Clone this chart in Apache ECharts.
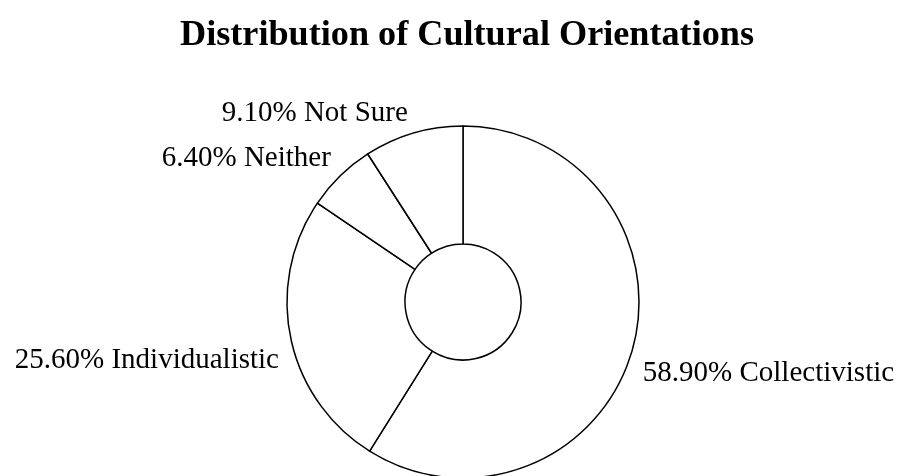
<!DOCTYPE html>
<html>
<head>
<meta charset="utf-8">
<style>
  html, body { margin: 0; padding: 0; background: #fff; }
  #chart { width: 898px; height: 476px; }
</style>
<script src="https://cdn.jsdelivr.net/npm/echarts@6/dist/echarts.min.js"></script>
</head>
<body>
<div id="chart"></div>
<script>
// Survey responses: share of each cultural orientation (percent)
const categories = ['Collectivistic', 'Individualistic', 'Neither', 'Not Sure'];
const shares = [58.9, 25.6, 6.4, 9.1];

const FONT = '"Liberation Serif", "Times New Roman", serif';
const CENTER = [463, 302];
const R_INNER = 58;
const R_OUTER = 176;
const LABEL_GAP = 9;

const total = shares.reduce((a, b) => a + b, 0);

// Mid-angle of each slice, measured clockwise from 12 o'clock
function midAngle(i) {
  let before = 0;
  for (let k = 0; k < i; k++) before += shares[k];
  return ((before + shares[i] / 2) / total) * Math.PI * 2;
}

const chart = echarts.init(document.getElementById('chart'), null, { renderer: 'canvas' });

chart.setOption({
  animation: false,
  backgroundColor: '#ffffff',
  title: {
    text: 'Distribution of Cultural Orientations',
    left: 462,
    top: 13,
    textAlign: 'center',
    textStyle: {
      fontFamily: FONT,
      fontWeight: 'bold',
      fontSize: 36.2,
      color: '#000'
    }
  },
  series: [{
    type: 'pie',
    center: CENTER,
    radius: [R_INNER, R_OUTER],
    startAngle: 90,
    clockwise: true,
    silent: true,
    avoidLabelOverlap: false,
    emphasis: { disabled: true },
    itemStyle: {
      color: '#ffffff',
      borderColor: '#000000',
      borderWidth: 1.5
    },
    label: {
      show: true,
      position: 'outside',
      overflow: 'none',
      fontFamily: FONT,
      fontSize: 29,
      color: '#000',
      formatter: p => p.value.toFixed(2) + '% ' + p.name
    },
    labelLine: { show: false },
    // Outside labels sit just beyond the rim at each slice's mid-angle,
    // anchored by the corner nearest the ring
    labelLayout: function (params) {
      const a = midAngle(params.dataIndex);
      const dx = Math.sin(a);
      const dy = -Math.cos(a);
      const r = R_OUTER + LABEL_GAP;
      return {
        x: CENTER[0] + r * dx + (dx >= 0 ? 2 : -3),
        y: CENTER[1] + r * dy + (dy >= 0 ? 6 : 3),
        align: dx >= 0 ? 'left' : 'right',
        verticalAlign: dy >= 0 ? 'top' : 'bottom'
      };
    },
    data: categories.map((name, i) => ({ name: name, value: shares[i] }))
  }]
});
</script>
</body>
</html>
